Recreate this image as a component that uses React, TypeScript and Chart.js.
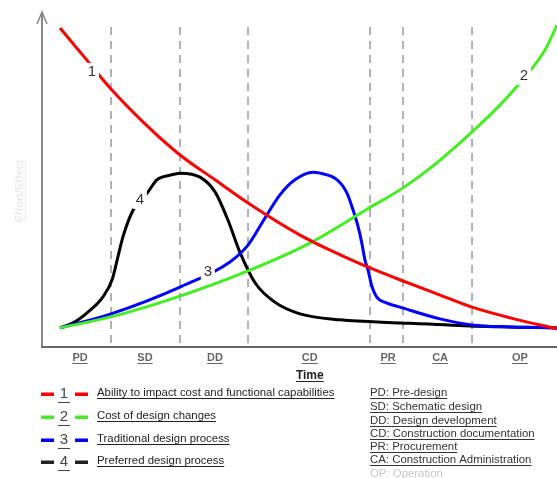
import React, { useEffect, useRef } from "react";
import { Chart, registerables } from "chart.js";

Chart.register(...registerables);

// Time axis runs 0..100, value axis 0..100
const phaseNames = ["PD", "SD", "DD", "CD", "PR", "CA", "OP"];
const phaseBoundaries = [13.4, 26.8, 40.0, 63.7, 70.1, 83.5];
const phaseCenters = [7.4, 20.0, 33.6, 52.0, 67.2, 77.3, 92.8];

const seriesNames = [
  "Ability to impact cost and functional capabilities",
  "Cost of design changes",
  "Traditional design process",
  "Preferred design process",
];
const seriesColors = ["#ff0000", "#44ee22", "#0000ff", "#000000"];

const redX = [3.5, 8.35, 13.4, 20.0, 26.8, 33.6, 40.0, 50.1, 57.9, 63.7, 70.1, 77.3, 83.5, 90.9, 100];
const redY = [95.2, 86.3, 77.0, 66.6, 57.3, 49.9, 43.0, 33.4, 27.5, 23.6, 19.7, 15.5, 11.9, 8.7, 5.4];

const greenX = [3.5, 13.4, 26.8, 40.0, 52.0, 63.5, 70.1, 77.3, 83.5, 88.9, 93.6, 97.7, 100];
const greenY = [5.7, 9.0, 15.2, 22.7, 31.0, 41.5, 47.5, 55.8, 64.2, 72.2, 80.3, 88.7, 96.1];

const blueX = [3.5, 13.4, 26.8, 36.5, 40.0, 43.3, 46.2, 49.1, 52.6, 54.0, 57.3, 59.2, 60.4, 61.4, 62.1, 62.7, 63.3, 64.1, 65.0, 67.0, 69.5, 77.3, 83.5, 90.9, 100];
const blueY = [5.7, 9.9, 17.9, 25.4, 30.4, 38.5, 45.4, 49.9, 52.2, 51.9, 49.9, 46.0, 40.9, 35.8, 31.0, 26.0, 23.0, 17.9, 14.9, 13.1, 11.9, 8.4, 6.6, 6.0, 5.7];

const blackX = [3.5, 6.4, 9.3, 11.8, 13.6, 14.6, 15.7, 17.7, 20.6, 22.3, 24.9, 26.8, 30.7, 33.6, 36.1, 38.4, 41.4, 45.2, 50.1, 57.9, 69.5, 83.1, 100];
const blackY = [5.7, 7.5, 10.9, 14.9, 20.0, 26.0, 32.8, 40.9, 46.3, 49.9, 51.3, 51.9, 50.7, 46.3, 37.9, 28.4, 19.1, 13.4, 9.9, 8.1, 7.2, 6.3, 5.7];

const curveLabels = ["1", "2", "3", "4"];
const curveLabelX = [9.7, 93.6, 32.2, 19.0];
const curveLabelY = [82.1, 80.9, 22.4, 43.9];

const phaseDefinitions = [
  "PD: Pre-design",
  "SD: Schematic design",
  "DD: Design development",
  "CD: Construction documentation",
  "PR: Procurement",
  "CA: Construction Administration",
  "OP: Operation",
];

const yAxisTitle = "Effort/Effect";
const xAxisTitle = "Time";

function underlinedText(ctx: CanvasRenderingContext2D, text: string, x: number, y: number, align: CanvasTextAlign) {
  ctx.textAlign = align;
  ctx.textBaseline = "middle";
  ctx.fillText(text, x, y);
  const w = ctx.measureText(text).width;
  const x0 = align === "center" ? x - w / 2 : x;
  ctx.fillRect(x0, y + 5, w, 1);
}

const decorPlugin = {
  id: "decor",
  beforeDatasetsDraw(chart: any) {
    const ctx: CanvasRenderingContext2D = chart.ctx;
    const xs = chart.scales.x;
    const ys = chart.scales.y;
    const area = chart.chartArea;
    ctx.save();
    // dashed phase boundaries
    ctx.strokeStyle = "#999999";
    ctx.lineWidth = 1.5;
    ctx.setLineDash([8, 6]);
    phaseBoundaries.forEach((b) => {
      const px = xs.getPixelForValue(b);
      ctx.beginPath();
      ctx.moveTo(px, ys.getPixelForValue(95.5));
      ctx.lineTo(px, area.bottom - 2);
      ctx.stroke();
    });
    ctx.setLineDash([]);
    // y axis with arrow
    ctx.strokeStyle = "#888888";
    ctx.lineWidth = 2;
    ctx.beginPath();
    ctx.moveTo(area.left, area.bottom);
    ctx.lineTo(area.left, area.top);
    ctx.stroke();
    ctx.lineWidth = 1.5;
    ctx.beginPath();
    ctx.moveTo(area.left - 5, area.top + 12);
    ctx.lineTo(area.left, area.top);
    ctx.lineTo(area.left + 5, area.top + 12);
    ctx.stroke();
    // x axis
    ctx.strokeStyle = "#666666";
    ctx.lineWidth = 2;
    ctx.beginPath();
    ctx.moveTo(area.left - 1, area.bottom);
    ctx.lineTo(area.right, area.bottom);
    ctx.stroke();
    ctx.restore();
  },
  afterDatasetsDraw(chart: any) {
    const ctx: CanvasRenderingContext2D = chart.ctx;
    const xs = chart.scales.x;
    const ys = chart.scales.y;
    const area = chart.chartArea;
    ctx.save();
    // curve number labels with gaps
    ctx.font = "15px 'Liberation Sans', Arial, sans-serif";
    curveLabels.forEach((t, i) => {
      const px = xs.getPixelForValue(curveLabelX[i]);
      const py = ys.getPixelForValue(curveLabelY[i]);
      ctx.fillStyle = "#ffffff";
      ctx.fillRect(px - 7, py - 9, 14, 18);
      ctx.fillStyle = "#333333";
      ctx.textAlign = "center";
      ctx.textBaseline = "middle";
      ctx.fillText(t, px, py);
    });
    // y title
    ctx.save();
    ctx.translate(20, 191);
    ctx.rotate(-Math.PI / 2);
    ctx.font = "bold 11px 'Liberation Sans', Arial, sans-serif";
    ctx.fillStyle = "#ebebeb";
    underlinedText(ctx, yAxisTitle, 0, 0, "center");
    ctx.restore();
    // phase labels
    ctx.font = "bold 11px 'Liberation Sans', Arial, sans-serif";
    ctx.fillStyle = "#666666";
    phaseNames.forEach((p, i) => {
      underlinedText(ctx, p, xs.getPixelForValue(phaseCenters[i]), area.bottom + 11, "center");
    });
    // x title
    ctx.font = "bold 12px 'Liberation Sans', Arial, sans-serif";
    ctx.fillStyle = "#222222";
    underlinedText(ctx, xAxisTitle, xs.getPixelForValue(52.0), area.bottom + 29, "center");
    // left legend
    const rowY = [394, 417, 440, 462];
    seriesNames.forEach((name, i) => {
      const y = rowY[i];
      ctx.fillStyle = seriesColors[i] === "#000000" ? "#222222" : seriesColors[i];
      ctx.fillRect(41, y - 1.5, 13, 3.5);
      ctx.fillRect(75, y - 1.5, 13, 3.5);
      ctx.font = "15px 'Liberation Sans', Arial, sans-serif";
      ctx.fillStyle = "#444444";
      ctx.textAlign = "center";
      ctx.textBaseline = "middle";
      ctx.fillText(curveLabels[i], 64, y);
      ctx.fillRect(58, y + 8, 12, 1);
      ctx.font = "11.4px 'Liberation Sans', Arial, sans-serif";
      ctx.fillStyle = "#222222";
      underlinedText(ctx, name, 97, y - 1, "left");
    });
    // right legend
    const defY = [394, 408, 422, 435, 448, 461, 475];
    ctx.font = "11.4px 'Liberation Sans', Arial, sans-serif";
    phaseDefinitions.forEach((d, i) => {
      ctx.fillStyle = i === phaseDefinitions.length - 1 ? "#c8c8c8" : "#333333";
      underlinedText(ctx, d, 370, defY[i] - 1, "left");
    });
    ctx.restore();
  },
};

export default function App() {
  const ref = useRef<HTMLCanvasElement | null>(null);
  useEffect(() => {
    document.body.style.margin = "0";
    const canvas = ref.current;
    if (!canvas) return;
    const toPts = (xs: number[], ys: number[]) => xs.map((x, i) => ({ x, y: ys[i] }));
    const allX = [redX, greenX, blueX, blackX];
    const allY = [redY, greenY, blueY, blackY];
    const chart = new Chart(canvas, {
      type: "line",
      data: {
        datasets: seriesNames.map((n, i) => ({
          label: n,
          data: toPts(allX[i], allY[i]),
          borderColor: seriesColors[i],
          borderWidth: 3,
          pointRadius: 0,
          fill: false,
          cubicInterpolationMode: "monotone" as const,
        })),
      },
      options: {
        responsive: false,
        animation: false,
        devicePixelRatio: 1,
        layout: { padding: { left: 42, right: 0, top: 12, bottom: 131 } },
        plugins: { legend: { display: false }, tooltip: { enabled: false } },
        scales: {
          x: { type: "linear", min: 0, max: 100, display: false },
          y: { type: "linear", min: 0, max: 100, display: false },
        },
      },
      plugins: [decorPlugin],
    });
    return () => chart.destroy();
  }, []);
  return <canvas ref={ref} width={557} height={478} style={{ display: "block" }} />;
}
